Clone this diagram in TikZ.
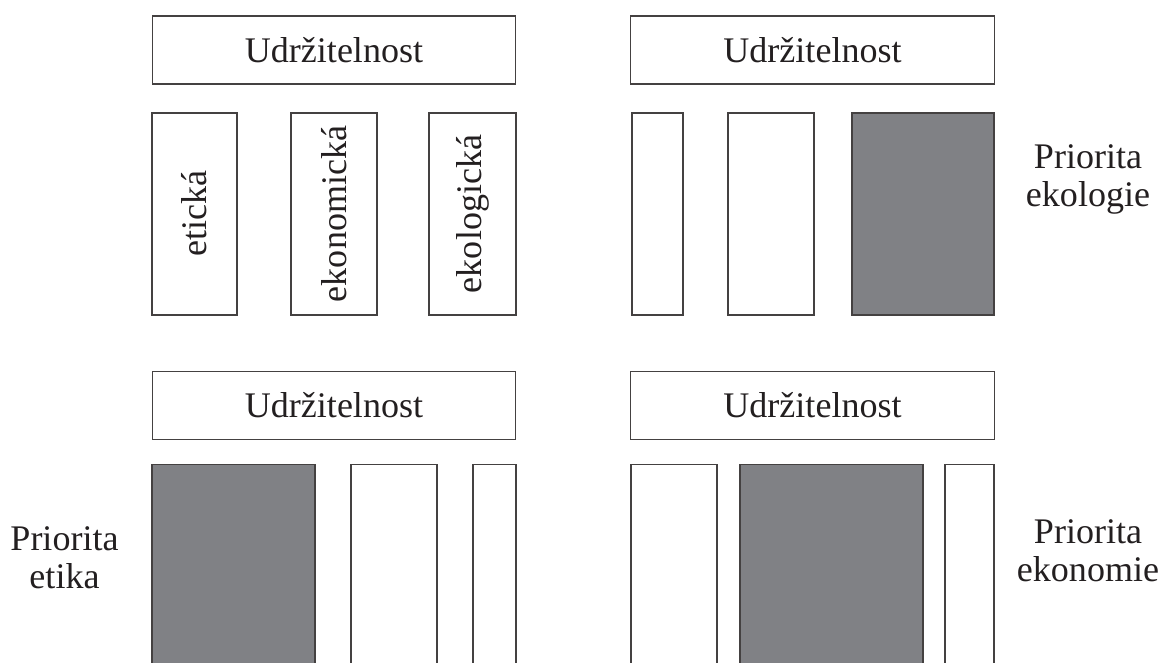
\documentclass[tikz,border=0pt]{standalone}
\usepackage{fontspec}
\setmainfont{Liberation Serif}
\usepackage{tikz}
\definecolor{pillargray}{RGB}{128,129,133}
\definecolor{inkcol}{RGB}{35,31,32}
\tikzset{
	frame/.style={draw=inkcol!85, line width=0.8pt, inner sep=0pt},
	goalbox/.style={frame, minimum width=7.27cm, minimum height=1.36cm},
	pillar/.style={frame, minimum height=4.04cm},
	lowpillar/.style={frame, anchor=north, minimum height=4.6cm},
	heavy/.style={fill=pillargray},
	prio/.style={align=center, inner sep=0pt}
}

\begin{document}
\begin{tikzpicture}[font=\fontsize{20.5}{21.6}\selectfont, text=inkcol]
	\useasboundingbox (0,0) rectangle (23.26,13.26);
	\clip (0,0) rectangle (23.26,13.26);
	
	\node[goalbox] (goalA) at (6.68,12.26) {Udržitelnost};
	\node[goalbox] (goalB) at (16.25,12.26) {Udržitelnost};
	\node[goalbox] (goalC) at (6.68,5.15) {Udržitelnost};
	\node[goalbox] (goalD) at (16.25,5.15) {Udržitelnost};
	
	\node[pillar, minimum width=1.70cm] (etA) at (3.89,8.98) {\rotatebox{90}{etická}};
	\node[pillar, minimum width=1.72cm] (ecA) at (6.68,8.98) {\rotatebox{90}{ekonomická}};
	\node[pillar, minimum width=1.74cm] (ekA) at (9.45,8.98) {\rotatebox{90}{ekologická}};
	
	\node[pillar, minimum width=1.02cm] (etB) at (13.15,8.98) {};
	\node[pillar, minimum width=1.72cm] (ecB) at (15.42,8.98) {};
	\node[pillar, heavy, minimum width=2.84cm] (ekB) at (18.46,8.98) {};
	
	\node[lowpillar, heavy, minimum width=3.26cm] (etC) at (4.67,3.98) {};
	\node[lowpillar, minimum width=1.72cm] (ecC) at (7.88,3.98) {};
	\node[lowpillar, minimum width=0.86cm] (ekC) at (9.89,3.98) {};
	
	\node[lowpillar, minimum width=1.72cm] (etD) at (13.48,3.98) {};
	\node[lowpillar, heavy, minimum width=3.66cm] (ecD) at (16.63,3.98) {};
	\node[lowpillar, minimum width=0.98cm] (ekD) at (19.39,3.98) {};
	
	\node[prio] (prioB) at (21.76,9.67) {Priorita\\ekologie};
	\node[prio] (prioC) at (1.29,2.11) {Priorita\\etika};
	\node[prio] (prioD) at (21.76,2.25) {Priorita\\ekonomie};
\end{tikzpicture}
\end{document}
